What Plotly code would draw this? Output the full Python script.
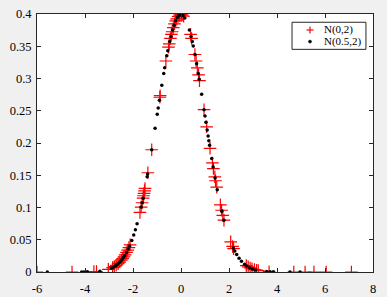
import plotly.graph_objects as go

# N(0,2) sample points (red +)
red_x = [-6.00, -4.54, -3.63, -3.52, -3.03, -2.85, -2.78, -2.70, -2.62, -2.55, -2.48, -2.43,
         -2.38, -2.33, -2.27, -2.22, -2.17, -2.12, -1.71, -1.66, -1.62, -1.58, -1.56, -1.54,
         -1.52, -1.50, -1.38, -1.22, -0.88, -0.87, -0.63, -0.52, -0.49, -0.44, -0.40, -0.37,
         -0.32, -0.27, -0.22, -0.18, -0.12, -0.06, 0.00, 0.05, 0.11, 0.40, 0.44, 0.58, 0.63,
         0.68, 0.73, 0.77, 0.96, 1.07, 1.21, 1.31, 1.35, 1.41, 1.44, 1.49, 1.64, 1.69, 1.74,
         1.79, 2.07, 2.15, 2.19, 2.72, 2.80, 2.88, 2.96, 3.06, 3.15, 3.22, 3.67, 4.70, 5.17,
         5.54, 6.05, 7.10]
red_y = [0.0, 0.0, 0.00055, 0.00081, 0.00405, 0.00687, 0.00837, 0.01042, 0.01289, 0.01545,
         0.01843, 0.02083, 0.02350, 0.02644, 0.03034, 0.03394, 0.03790, 0.04217, 0.0925,
         0.1006, 0.1074, 0.1145, 0.1182, 0.1219, 0.1257, 0.1295, 0.1539, 0.1895, 0.2709,
         0.2733, 0.3271, 0.3485, 0.3538, 0.3621, 0.3683, 0.3725, 0.3790, 0.3847, 0.3894,
         0.3925, 0.3961, 0.3982, 0.3989, 0.3984, 0.3965, 0.3683, 0.3621, 0.3372, 0.3271,
         0.3166, 0.3056, 0.2966, 0.2516, 0.2251, 0.1918, 0.1691, 0.1604, 0.1476, 0.1415,
         0.1315, 0.1040, 0.0957, 0.0878, 0.0804, 0.0468, 0.0396, 0.0363, 0.00987, 0.00791,
         0.00631, 0.00499, 0.00369, 0.00279, 0.00223, 0.00047, 0.0, 0.0, 0.0, 0.0, 0.0]

# N(0.5,2) sample points (black dots)
blk_x = [-5.57, -4.14, -4.03, -3.90, -3.38, -2.90, -2.82, -2.76, -2.70, -2.65, -2.58, -2.52,
         -2.46, -2.40, -2.35, -2.27, -2.20, -2.14, -2.05, -1.97, -1.90, -1.83, -1.66, -1.62,
         -1.58, -1.41, -1.39, -1.22, -1.08, -0.99, -0.95, -0.90, -0.80, -0.72, -0.68, -0.59,
         -0.55, -0.47, -0.42, -0.35, -0.29, -0.22, -0.15, -0.10, -0.05, 0.02, 0.08, 0.16,
         0.35, 0.42, 0.47, 0.51, 0.58, 0.65, 0.72, 0.76, 0.86, 0.96, 1.00, 1.04, 1.09, 1.13,
         1.16, 1.19, 1.28, 1.34, 1.42, 1.51, 1.70, 1.79, 2.18, 2.24, 2.32, 2.42, 2.52, 2.65,
         2.74, 2.86, 2.98, 3.10, 3.57, 3.71, 3.85, 4.54, 4.96]
blk_y = [0.0, 0.00008, 0.00012, 0.0002, 0.00132, 0.00595, 0.00748, 0.00885, 0.01042, 0.01191,
         0.01431, 0.01667, 0.01935, 0.02239, 0.02522, 0.03034, 0.03547, 0.04042, 0.04879,
         0.0573, 0.0656, 0.0748, 0.1006, 0.1074, 0.1145, 0.1476, 0.1518, 0.1895, 0.2227,
         0.2444, 0.2541, 0.2661, 0.2897, 0.3079, 0.3166, 0.3352, 0.3429, 0.3572, 0.3653,
         0.3752, 0.3825, 0.3894, 0.3945, 0.3970, 0.3984, 0.3989, 0.3977, 0.3939, 0.3752,
         0.3653, 0.3572, 0.3503, 0.3372, 0.3230, 0.3079, 0.2989, 0.2756, 0.2516, 0.2420,
         0.2323, 0.2203, 0.2107, 0.2036, 0.1965, 0.1758, 0.1626, 0.1456, 0.1276, 0.0940,
         0.0804, 0.0371, 0.0325, 0.0270, 0.0213, 0.01667, 0.01191, 0.00934, 0.00668, 0.00470,
         0.00327, 0.00068, 0.00041, 0.00024, 0.0, 0.0]

series_names = ["N(0,2)", "N(0.5,2)"]
x_ticks = [-6, -4, -2, 0, 2, 4, 6, 8]
y_ticks = [0, 0.05, 0.1, 0.15, 0.2, 0.25, 0.3, 0.35, 0.4]
y_labels = ["0", "0.05", "0.1", "0.15", "0.2", "0.25", "0.3", "0.35", "0.4"]

font = "Liberation Serif, Times New Roman, serif"

fig = go.Figure()
fig.add_trace(go.Scatter(x=red_x, y=red_y, mode="markers", name=series_names[0],
                         marker=dict(symbol="cross-thin", size=9, color="red",
                                     line=dict(color="red", width=1.2))))
fig.add_trace(go.Scatter(x=blk_x, y=blk_y, mode="markers", name=series_names[1],
                         marker=dict(symbol="circle", size=3.5, color="black")))

axis_common = dict(showgrid=False, zeroline=False, showline=True, linecolor="#262626",
                   linewidth=1, mirror="ticks", ticks="inside", ticklen=4, automargin=False,
                   tickcolor="#262626", tickfont=dict(family=font, size=12.5, color="black"))
fig.update_xaxes(range=[-6, 8], tickvals=x_ticks, ticktext=[str(v) for v in x_ticks],
                 ticklabelstandoff=5, **axis_common)
fig.update_yaxes(range=[0, 0.4], tickvals=y_ticks, ticktext=y_labels,
                 ticklabelstandoff=2, **axis_common)

# compact MATLAB-style legend box (paper coordinates)
PW, PH = 336.0, 258.0  # plot area size in px
def px(dx):
    return dx / PW
def py(dy):
    return dy / PH

lx0, lx1, ly0, ly1 = 0.759, 0.979, 0.863, 0.968
row_y = [0.938, 0.893]
mark_x = 0.8125
text_x = 0.849

shapes = [dict(type="rect", xref="paper", yref="paper", x0=lx0, x1=lx1, y0=ly0, y1=ly1,
               fillcolor="white", line=dict(color="#262626", width=1), layer="above")]
# "+" symbol for first entry
shapes.append(dict(type="line", xref="paper", yref="paper",
                   x0=mark_x - px(3.5), x1=mark_x + px(3.5), y0=row_y[0], y1=row_y[0],
                   line=dict(color="red", width=1.2), layer="above"))
shapes.append(dict(type="line", xref="paper", yref="paper",
                   x0=mark_x, x1=mark_x, y0=row_y[0] - py(3.5), y1=row_y[0] + py(3.5),
                   line=dict(color="red", width=1.2), layer="above"))
# dot for second entry
shapes.append(dict(type="circle", xref="paper", yref="paper",
                   x0=mark_x - px(1.5), x1=mark_x + px(1.5),
                   y0=row_y[1] - py(1.5), y1=row_y[1] + py(1.5),
                   fillcolor="black", line=dict(color="black", width=0.5), layer="above"))

annotations = [dict(x=text_x, y=ry, xref="paper", yref="paper", text=name, showarrow=False,
                    xanchor="left", yanchor="middle",
                    font=dict(family=font, size=11, color="black"))
               for name, ry in zip(series_names, row_y)]

fig.update_layout(
    width=387, height=297,
    margin=dict(l=37, r=14, t=14, b=25),
    paper_bgcolor="#f0f0f0", plot_bgcolor="white",
    showlegend=False,
    shapes=shapes, annotations=annotations,
)

fig.write_html("out.html", config={"displayModeBar": False},
               post_script="document.body.style.margin='0px';"
                           "document.body.style.background='#f0f0f0';"
                           "document.body.style.overflow='hidden';")
